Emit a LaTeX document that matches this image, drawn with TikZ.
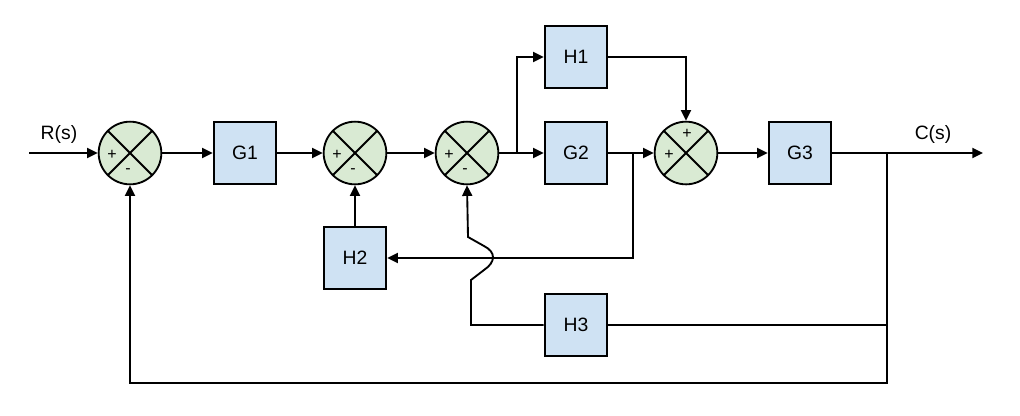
\documentclass[tikz,border=0pt]{standalone}
\usepackage{fontspec}
\setmainfont{Liberation Sans}
\usetikzlibrary{arrows.meta}
\definecolor{boxfill}{HTML}{CFE2F3}
\definecolor{sumfill}{HTML}{D9EAD3}
\begin{document}
\begin{tikzpicture}[x=0.75pt,y=-0.75pt,
  blk/.style={draw=black,line width=1.4pt,fill=boxfill,minimum size=47pt,inner sep=0pt,font=\fontsize{14.5}{16}\selectfont},
  summer/.style={circle,draw=black,line width=1.4pt,fill=sumfill,minimum size=47pt,inner sep=0pt,
    path picture={\draw[line width=1.4pt] (path picture bounding box.north west)--(path picture bounding box.south east)
      (path picture bounding box.north east)--(path picture bounding box.south west);}},
  sg/.style={font=\fontsize{12}{13}\selectfont,inner sep=0pt},
  lbl/.style={font=\fontsize{14.5}{16}\selectfont,inner sep=0pt},
  wire/.style={line width=1.4pt,draw=black},
  arr/.style={wire,-{Triangle[length=8pt,width=7.5pt]}}]
\useasboundingbox (0,0) rectangle (1020,415);
% summing junctions
\node[summer] (s1) at (130,153) {};
\node[summer] (s2) at (355,153) {};
\node[summer] (s3) at (467,153) {};
\node[summer] (s4) at (686,153) {};
% signs
\node[sg] (p1) at (112,155) {+};
\node[sg] (m1) at (128,171) {-};
\node[sg] (p2) at (337,155) {+};
\node[sg] (m2) at (353,171) {-};
\node[sg] (p3) at (449,155) {+};
\node[sg] (m3) at (465,171) {-};
\node[sg] (p4) at (669,155) {+};
\node[sg] (p5) at (687,134) {+};
% blocks
\node[blk] (G1) at (245,153) {G1};
\node[blk] (G2) at (576,153) {G2};
\node[blk] (G3) at (800,153) {G3};
\node[blk] (H1) at (576,57) {H1};
\node[blk] (H2) at (355,258) {H2};
\node[blk] (H3) at (576,325) {H3};
% labels
\node[lbl] (R) at (59,134) {R(s)};
\node[lbl] (C) at (933,134) {C(s)};
% coordinates
\coordinate (in) at (29,153);
\coordinate (out) at (983,153);
\coordinate (b1) at (517,153);
\coordinate (b2) at (633,153);
\coordinate (b3) at (887,153);
\coordinate (b4) at (887,325);
\coordinate (c3) at (887,383);
\coordinate (h1) at (471,325);
\coordinate (h2) at (471,280);
\coordinate (h3) at (468,237);
% forward path
\draw[arr] (in) -- (s1.west);
\draw[arr] (s1.east) -- (G1.west);
\draw[arr] (G1.east) -- (s2.west);
\draw[arr] (s2.east) -- (s3.west);
\draw[arr] (s3.east) -- (G2.west);
\draw[arr] (b1) |- (H1.west);
\draw[arr] (G2.east) -- (s4.west);
\draw[arr] (H1.east) -| (s4.north);
\draw[arr] (s4.east) -- (G3.west);
\draw[arr] (G3.east) -- (out);
% feedback
\draw[arr] (b2) |- (H2.east);
\draw[arr] (H2.north) -- (s2.south);
\draw[arr] (b3) -- (c3) -| (s1.south);
\draw[wire] (H3.east) -- (b4);
\draw[arr] (H3.west) -- (h1) -- (h2) -- (484,270) .. controls (496,262) and (496,252) .. (484,246) -- (h3) -- (s3.south);
\end{tikzpicture}
\end{document}
